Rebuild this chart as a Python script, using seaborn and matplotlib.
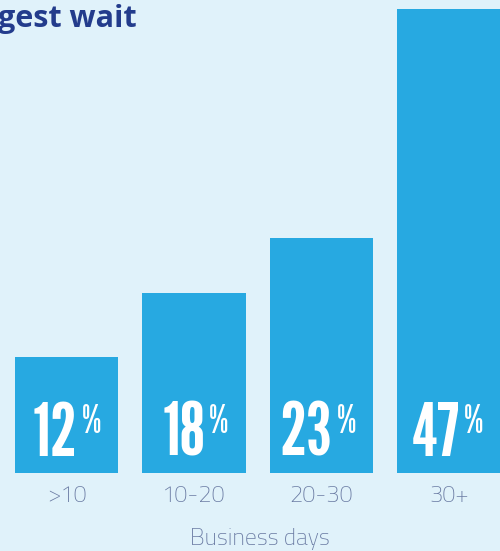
import matplotlib
matplotlib.use("Agg")
import matplotlib.pyplot as plt
import matplotlib.transforms as mtransforms
from matplotlib import font_manager as fm
import seaborn as sns
import pandas as pd

categories = [">10", "10-20", "20-30", "30+"]
bar_heights = [11.8, 18.2, 23.8, 47.0]
labels = ["12", "18", "23", "47"]
title_text = "gest wait"
xlabel_text = "Business days"

BG = "#E0F2FA"
BAR = "#27A9E1"
NAVY = "#233C8C"
TICK = "#6A7BA3"

available = {f.name for f in fm.fontManager.ttflist}


def pick(*cands):
    for c in cands:
        if c in available:
            return [c, "DejaVu Sans"]
    return ["DejaVu Sans"]


NUM_FONT = pick("League Gothic", "Bebas Neue", "Oswald", "Fjalla One", "Roboto Condensed", "Liberation Sans Narrow")
TICK_FONT = pick("Titillium Web", "Roboto", "Lato")
TITLE_FONT = pick("Open Sans", "Fira Sans", "Noto Sans")

sns.set_theme(style="white")
plt.rcParams["font.family"] = TICK_FONT

df = pd.DataFrame({"cat": categories, "val": bar_heights})

fig = plt.figure(figsize=(5.0, 5.51), dpi=100, facecolor=BG)
ax = fig.add_axes([0, 78 / 551, 1, 473 / 551])
ax.set_facecolor(BG)

sns.barplot(data=df, x="cat", y="val", color=BAR, width=0.815, saturation=1,
            linewidth=0, ax=ax)

ax.set_xlim(-0.5216, 3.4)
ax.set_ylim(0, 473 / 9.87)
for s in ax.spines.values():
    s.set_visible(False)
ax.set_yticks([])
ax.set_ylabel("")
ax.set_xlabel("")
ax.tick_params(axis="x", length=0, pad=9, labelsize=17, labelcolor=TICK)
for lbl in ax.get_xticklabels():
    lbl.set_fontweight("light")
    lbl.set_family(TICK_FONT)

for i, lab in enumerate(labels):
    t_num = mtransforms.offset_copy(ax.transData, fig=fig, x=11, y=17, units="dots")
    ax.text(i, 0, lab, transform=t_num, ha="right", va="baseline",
            color="white", fontsize=53, fontweight="bold", family=NUM_FONT)
    t_pct = mtransforms.offset_copy(ax.transData, fig=fig, x=15, y=69, units="dots")
    ax.text(i, 0, "%", transform=t_pct, ha="left", va="top",
            color="white", fontsize=28, fontweight="bold", family=NUM_FONT)

fig.text(-2 / 500, 1 - 27 / 551, title_text, ha="left", va="baseline",
         color=NAVY, fontsize=22, fontweight="bold", family=TITLE_FONT)

fig.text(260 / 500, 1 - 539 / 551, xlabel_text, ha="center", va="center",
         color=TICK, fontsize=17, fontweight="light", family=TICK_FONT)

fig.savefig("out.png", dpi=100, facecolor=BG)
